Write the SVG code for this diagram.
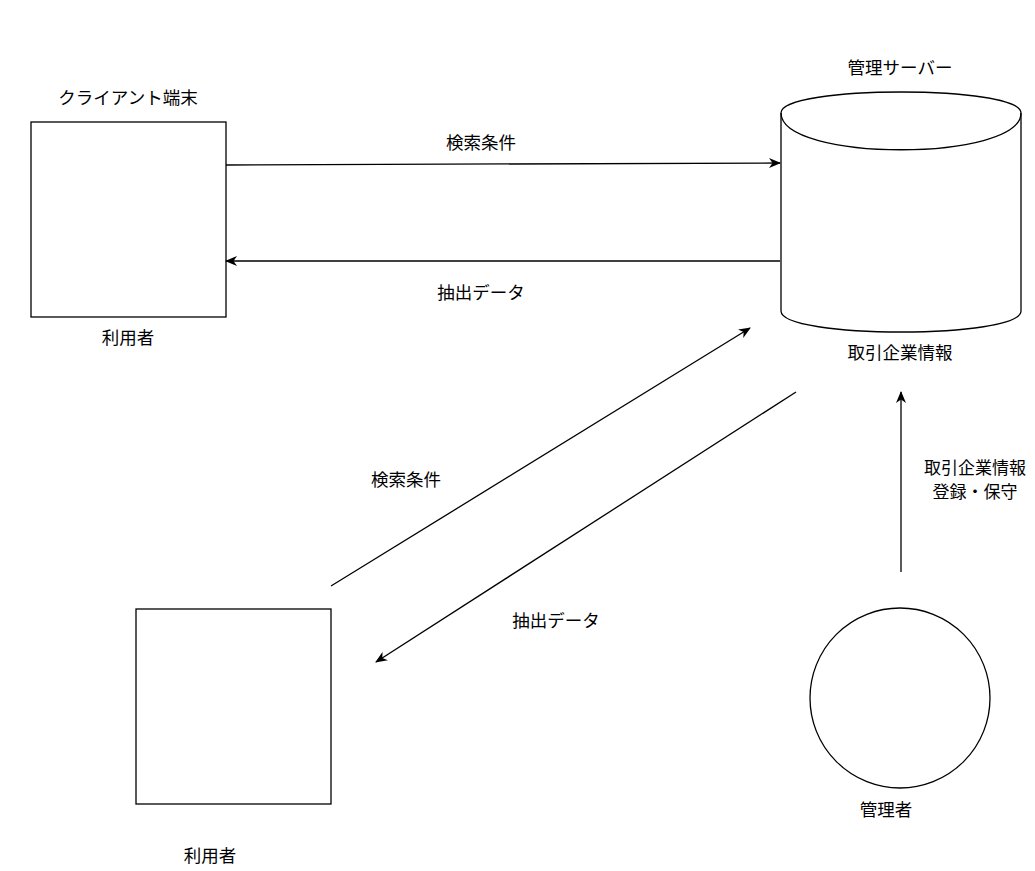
<svg xmlns="http://www.w3.org/2000/svg" width="1035" height="871" viewBox="0 0 1035 871">
<defs>
<style>
.shape{fill:#fff;stroke:#000;stroke-width:1.3}
.edge{fill:none;stroke:#000;stroke-width:1.3}
text{font-family:"Noto Sans CJK JP","Noto Sans",sans-serif;font-size:17.5px;fill:#000;text-anchor:middle}
</style>
<marker id="arr" viewBox="0 0 12 10" refX="11" refY="5" markerWidth="12" markerHeight="10" markerUnits="userSpaceOnUse" orient="auto">
<path d="M0,0 L12,5 L0,10 L3.5,5 Z" fill="#000"/>
</marker>
</defs>
<rect width="1035" height="871" fill="#fff"/>
<g id="client">
<rect class="shape" x="31" y="122" width="195" height="195"/>
<text x="128" y="104">クライアント端末</text>
<text x="128" y="344">利用者</text>
</g>
<g id="server">
<path class="shape" d="M781,113 C781,85 1021,85 1021,113 L1021,311 C1021,339 781,339 781,311 Z"/>
<path class="edge" d="M781,113 C781,162 1021,162 1021,113"/>
<text x="900" y="74">管理サーバー</text>
<text x="900" y="359">取引企業情報</text>
</g>
<g id="user2">
<rect class="shape" x="136" y="609" width="195" height="195"/>
<text x="210" y="862">利用者</text>
</g>
<g id="admin">
<circle class="shape" cx="900" cy="698" r="90"/>
<text x="886" y="816">管理者</text>
</g>
<g id="connectors">
<path class="edge" d="M226,165 L780,163" marker-end="url(#arr)"/>
<path class="edge" d="M780,261 L226,261" marker-end="url(#arr)"/>
<path class="edge" d="M331,586 L750,328" marker-end="url(#arr)"/>
<path class="edge" d="M796,392 L376,662" marker-end="url(#arr)"/>
<path class="edge" d="M901,572 L901,392" marker-end="url(#arr)"/>
<text x="481" y="149">検索条件</text>
<text x="481" y="299">抽出データ</text>
<text x="406" y="486">検索条件</text>
<text x="556" y="627">抽出データ</text>
<text x="975" y="474" style="font-size:17px">取引企業情報</text>
<text x="975" y="498" style="font-size:17px">登録・保守</text>
</g>
</svg>
